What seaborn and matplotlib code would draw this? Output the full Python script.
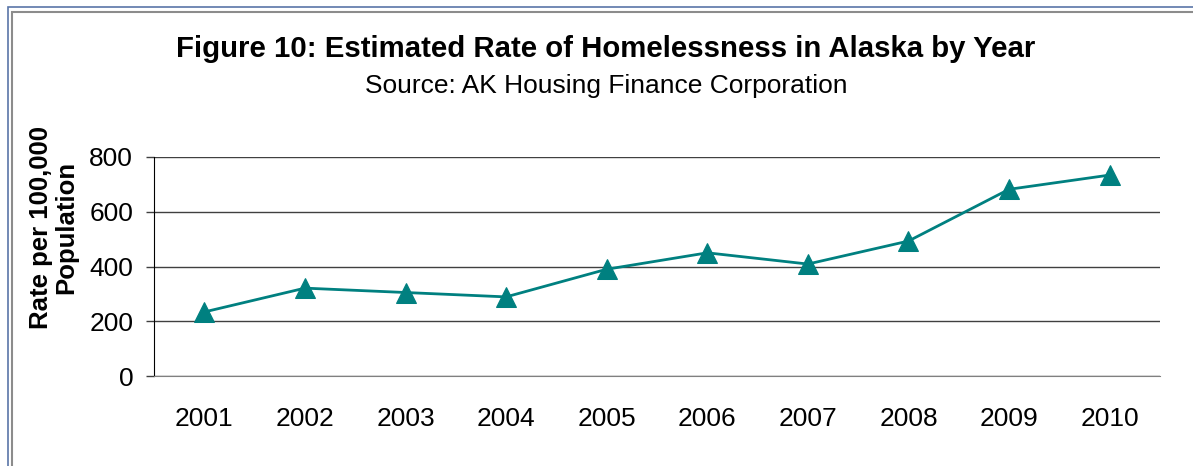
import numpy as np
import pandas as pd
import matplotlib.pyplot as plt
import seaborn as sns
from matplotlib.patches import Rectangle

# Data
years = ["2001", "2002", "2003", "2004", "2005", "2006", "2007", "2008", "2009", "2010"]
rate = [234, 321, 305, 289, 390, 450, 409, 493, 682, 734]

df = pd.DataFrame({"year": years, "rate": rate})

sns.set_style("white")
plt.rcParams['font.family'] = ['Liberation Sans', 'DejaVu Sans']
plt.rcParams['text.color'] = 'black'
plt.rcParams['axes.labelcolor'] = 'black'
plt.rcParams['xtick.color'] = 'black'
plt.rcParams['ytick.color'] = 'black'

fig = plt.figure(figsize=(11.93, 4.66), dpi=100)
ax = fig.add_axes([0.1291, 0.1931, 0.8432, 0.4700])

# Frame around the whole chart
fig.patches.append(Rectangle((8 / 1193, -0.1), 1.2, 1 - 7 / 466 + 0.1,
                             transform=fig.transFigure, fill=False,
                             edgecolor='#5a76a8', linewidth=1.2))
fig.patches.append(Rectangle((12 / 1193, -0.1), 1.2, 1 - 12 / 466 + 0.1,
                             transform=fig.transFigure, fill=False,
                             edgecolor='#8c8c8c', linewidth=1.5))

sns.lineplot(data=df, x="year", y="rate", ax=ax, color='#008080',
             linewidth=2, marker='^', markersize=14, markeredgecolor='#008080',
             sort=False)

ax.set_xlim(-0.5, len(years) - 0.5)
ax.set_ylim(0, 800)
ax.set_yticks([0, 200, 400, 600, 800])
ax.yaxis.grid(True, color='#404040', linewidth=1)
ax.set_axisbelow(True)

ax.set_xticks(np.arange(len(years)))
ax.set_xticklabels(years)
ax.set_xticks(np.arange(-0.5, len(years)), minor=True)
ax.tick_params(axis='x', which='major', length=0, pad=22, labelsize=19)
ax.tick_params(axis='x', which='minor', length=7, width=1, color='#808080',
               direction='out')
ax.tick_params(axis='y', length=6, width=1, color='#404040', direction='out',
               pad=9, labelsize=19, left=True)

for side in ['top', 'right']:
    ax.spines[side].set_visible(False)
ax.spines['left'].set_color('black')
ax.spines['bottom'].set_color('#808080')

ax.set_xlabel("")
ax.set_ylabel("Rate per 100,000\nPopulation", fontsize=18.5, fontweight='bold',
              linespacing=1.1)
ax.yaxis.set_label_coords(-0.075, 0.68)

fig.text(0.508, 0.895, "Figure 10: Estimated Rate of Homelessness in Alaska by Year",
         ha='center', va='center', fontsize=21.2, fontweight='bold')
fig.text(0.508, 0.815, "Source: AK Housing Finance Corporation",
         ha='center', va='center', fontsize=19)

plt.savefig("out.png", dpi=100)
